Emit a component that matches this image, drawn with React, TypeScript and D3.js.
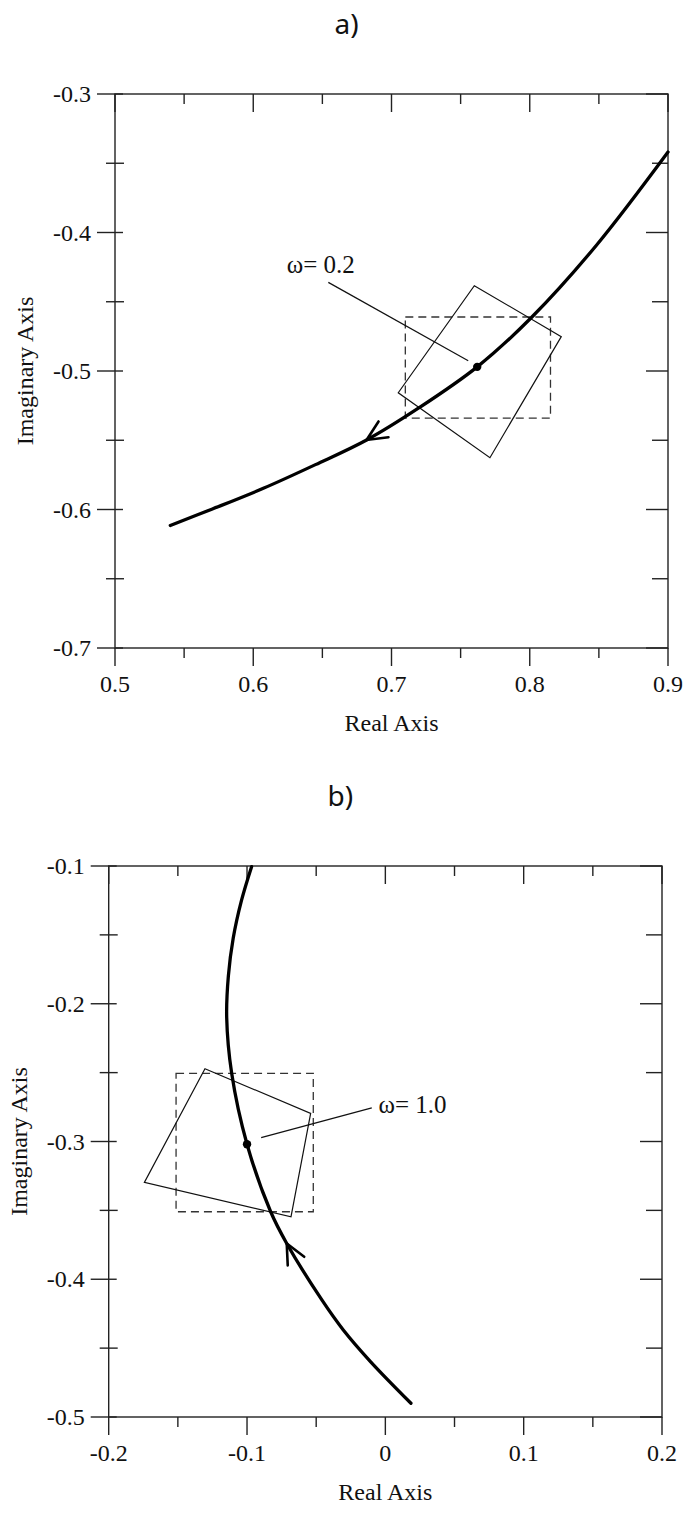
import React from 'react';
import * as d3 from 'd3';

const W = 686;
const H = 1513;

// ---------- Panel a data ----------
const aTitle = 'a)';
const aXMajor = [0.5, 0.6, 0.7, 0.8, 0.9];
const aXMinor = [0.55, 0.65, 0.75, 0.85];
const aYMajor = [-0.3, -0.4, -0.5, -0.6, -0.7];
const aYMinor = [-0.35, -0.45, -0.55, -0.65];
const aCurve: [number, number][] = [
  [0.54, -0.6115], [0.57, -0.5998], [0.6073, -0.5847], [0.645, -0.5676],
  [0.682, -0.5498], [0.72, -0.5265], [0.762, -0.497], [0.8014, -0.4612],
  [0.8484, -0.409], [0.9, -0.3419],
];
const aDot: [number, number] = [0.762, -0.497];
const aDashX = [0.71, 0.815];
const aDashY = [-0.461, -0.534];
const aQuad: [number, number][] = [
  [0.7599, -0.4384], [0.8228, -0.4752], [0.7712, -0.5626], [0.7049, -0.5157],
];
const aLeader: [number, number][] = [[0.6543, -0.436], [0.7555, -0.4926]];
const aLabelPos: [number, number] = [0.6242, -0.4295];
const aLabel = 'ω= 0.2';
const aArrow: [number, number][] = [[0.682, -0.5498], [0.70, -0.5385]]; // tip, tail

// ---------- Panel b data ----------
const bTitle = 'b)';
const bXMajor = [-0.2, -0.1, 0, 0.1, 0.2];
const bXMinor = [-0.15, -0.05, 0.05, 0.15];
const bYMajor = [-0.1, -0.2, -0.3, -0.4, -0.5];
const bYMinor = [-0.15, -0.25, -0.35, -0.45];
const bCurve: [number, number][] = [
  [-0.0967, -0.1005], [-0.104, -0.125], [-0.11, -0.1525], [-0.1135, -0.18],
  [-0.1147, -0.21], [-0.1111, -0.2505], [-0.1, -0.302], [-0.0829, -0.351],
  [-0.0713, -0.374], [-0.0459, -0.415], [-0.0304, -0.4368], [-0.0106, -0.4599],
  [0.0185, -0.49],
];
const bDot: [number, number] = [-0.1, -0.302];
const bDashX = [-0.1513, -0.0521];
const bDashY = [-0.2505, -0.351];
const bQuad: [number, number][] = [
  [-0.1304, -0.2472], [-0.054, -0.2796], [-0.0682, -0.3546], [-0.1742, -0.3297],
];
const bLeader: [number, number][] = [[-0.0898, -0.2972], [-0.0098, -0.2756]];
const bLabelPos: [number, number] = [-0.005, -0.2791];
const bLabel = 'ω= 1.0';
const bArrow: [number, number][] = [[-0.0713, -0.374], [-0.064, -0.388]];

const xTitle = 'Real Axis';
const yTitle = 'Imaginary Axis';

const SERIF = '"Liberation Serif", "Times New Roman", serif';
const SANS = '"Noto Sans", "Open Sans", sans-serif';

type PanelProps = {
  box: { l: number; r: number; t: number; b: number };
  xDom: number[];
  yDom: number[];
  xMajor: number[];
  xMinor: number[];
  yMajor: number[];
  yMinor: number[];
  curve: [number, number][];
  dot: [number, number];
  dashX: number[];
  dashY: number[];
  quad: [number, number][];
  leader: [number, number][];
  labelPos: [number, number];
  label: string;
  arrow: [number, number][];
  title: string;
};

const fmt = (v: number) => String(+v.toFixed(2));

function Panel(p: PanelProps) {
  const { box } = p;
  const x = d3.scaleLinear().domain(p.xDom).range([box.l, box.r]);
  const y = d3.scaleLinear().domain(p.yDom).range([box.t, box.b]);
  const line = d3
    .line<[number, number]>()
    .x((d) => x(d[0]))
    .y((d) => y(d[1]))
    .curve(d3.curveCatmullRom.alpha(0.5));
  const quadPath = d3
    .line<[number, number]>()
    .x((d) => x(d[0]))
    .y((d) => y(d[1]))
    .curve(d3.curveLinearClosed)(p.quad) as string;

  const axisColor = '#222';
  const MAJ = 18;
  const MIN = 10;

  // arrowhead
  const tip = [x(p.arrow[0][0]), y(p.arrow[0][1])];
  const tail = [x(p.arrow[1][0]), y(p.arrow[1][1])];
  const ang = Math.atan2(tail[1] - tip[1], tail[0] - tip[0]);
  const half = (25 * Math.PI) / 180;
  const L = 22;
  const b1 = [tip[0] + L * Math.cos(ang + half), tip[1] + L * Math.sin(ang + half)];
  const b2 = [tip[0] + L * Math.cos(ang - half), tip[1] + L * Math.sin(ang - half)];

  const cx = (box.l + box.r) / 2;
  const cy = (box.t + box.b) / 2;

  return (
    <g>
      <text x={cx - 45} y={box.t - 60} fontFamily={SANS} fontSize={28} textAnchor="middle" fill="#111">
        {p.title}
      </text>
      {/* frame */}
      <rect x={box.l} y={box.t} width={box.r - box.l} height={box.b - box.t} fill="none" stroke={axisColor} strokeWidth={1.4} />
      {/* bottom & top ticks */}
      {p.xMajor.map((v) => (
        <g key={'xm' + v}>
          <line x1={x(v)} x2={x(v)} y1={box.b} y2={box.b + MAJ} stroke={axisColor} strokeWidth={1.4} />
          <line x1={x(v)} x2={x(v)} y1={box.t} y2={box.t + MAJ} stroke={axisColor} strokeWidth={1.4} />
          <text x={x(v)} y={box.b + 44} fontFamily={SERIF} fontSize={24} textAnchor="middle" fill="#111">
            {fmt(v)}
          </text>
        </g>
      ))}
      {p.xMinor.map((v) => (
        <g key={'xn' + v}>
          <line x1={x(v)} x2={x(v)} y1={box.b} y2={box.b + MIN} stroke={axisColor} strokeWidth={1.4} />
          <line x1={x(v)} x2={x(v)} y1={box.t} y2={box.t + MIN} stroke={axisColor} strokeWidth={1.4} />
        </g>
      ))}
      {/* left & right ticks */}
      {p.yMajor.map((v) => (
        <g key={'ym' + v}>
          <line x1={box.l - MAJ} x2={box.l + 8} y1={y(v)} y2={y(v)} stroke={axisColor} strokeWidth={1.4} />
          <line x1={box.r - 22} x2={box.r} y1={y(v)} y2={y(v)} stroke={axisColor} strokeWidth={1.4} />
          <text x={box.l - 24} y={y(v) + 8} fontFamily={SERIF} fontSize={24} textAnchor="end" fill="#111">
            {fmt(v)}
          </text>
        </g>
      ))}
      {p.yMinor.map((v) => (
        <g key={'yn' + v}>
          <line x1={box.l - 9} x2={box.l + 9} y1={y(v)} y2={y(v)} stroke={axisColor} strokeWidth={1.4} />
          <line x1={box.r - 16} x2={box.r} y1={y(v)} y2={y(v)} stroke={axisColor} strokeWidth={1.4} />
        </g>
      ))}
      {/* axis titles */}
      <text x={cx} y={box.b + 83} fontFamily={SERIF} fontSize={24} textAnchor="middle" fill="#111">
        {xTitle}
      </text>
      <text
        transform={`translate(${box.l - 82},${cy}) rotate(-90)`}
        fontFamily={SERIF}
        fontSize={24}
        textAnchor="middle"
        fill="#111"
      >
        {yTitle}
      </text>
      {/* dashed rectangle */}
      <rect
        x={x(p.dashX[0])}
        y={y(p.dashY[0])}
        width={x(p.dashX[1]) - x(p.dashX[0])}
        height={y(p.dashY[1]) - y(p.dashY[0])}
        fill="none"
        stroke="#333"
        strokeWidth={1.3}
        strokeDasharray="8 5"
      />
      {/* rotated quad */}
      <path d={quadPath} fill="none" stroke="#111" strokeWidth={1.2} />
      {/* leader line */}
      <line
        x1={x(p.leader[0][0])}
        y1={y(p.leader[0][1])}
        x2={x(p.leader[1][0])}
        y2={y(p.leader[1][1])}
        stroke="#111"
        strokeWidth={1.2}
      />
      <text x={x(p.labelPos[0])} y={y(p.labelPos[1])} fontFamily={SERIF} fontSize={25} fill="#111">
        {p.label}
      </text>
      {/* curve */}
      <path d={line(p.curve) as string} fill="none" stroke="#000" strokeWidth={3.3} strokeLinecap="round" />
      {/* arrow */}
      <path
        d={`M${b1[0]},${b1[1]}L${tip[0]},${tip[1]}L${b2[0]},${b2[1]}`}
        fill="none"
        stroke="#000"
        strokeWidth={2.6}
        strokeLinecap="round"
        strokeLinejoin="miter"
      />
      {/* dot */}
      <circle cx={x(p.dot[0])} cy={y(p.dot[1])} r={4.2} fill="#000" />
    </g>
  );
}

export default function App() {
  return (
    <svg
      width={W}
      height={H}
      viewBox={`0 0 ${W} ${H}`}
      style={{ position: 'absolute', left: 0, top: 0, background: '#fff' }}
    >
      <rect x={0} y={0} width={W} height={H} fill="#fff" />
      <Panel
        box={{ l: 115, r: 668, t: 94, b: 648 }}
        xDom={[0.5, 0.9]}
        yDom={[-0.3, -0.7]}
        xMajor={aXMajor}
        xMinor={aXMinor}
        yMajor={aYMajor}
        yMinor={aYMinor}
        curve={aCurve}
        dot={aDot}
        dashX={aDashX}
        dashY={aDashY}
        quad={aQuad}
        leader={aLeader}
        labelPos={aLabelPos}
        label={aLabel}
        arrow={aArrow}
        title={aTitle}
      />
      <Panel
        box={{ l: 108.7, r: 662, t: 866, b: 1417 }}
        xDom={[-0.2, 0.2]}
        yDom={[-0.1, -0.5]}
        xMajor={bXMajor}
        xMinor={bXMinor}
        yMajor={bYMajor}
        yMinor={bYMinor}
        curve={bCurve}
        dot={bDot}
        dashX={bDashX}
        dashY={bDashY}
        quad={bQuad}
        leader={bLeader}
        labelPos={bLabelPos}
        label={bLabel}
        arrow={bArrow}
        title={bTitle}
      />
    </svg>
  );
}
